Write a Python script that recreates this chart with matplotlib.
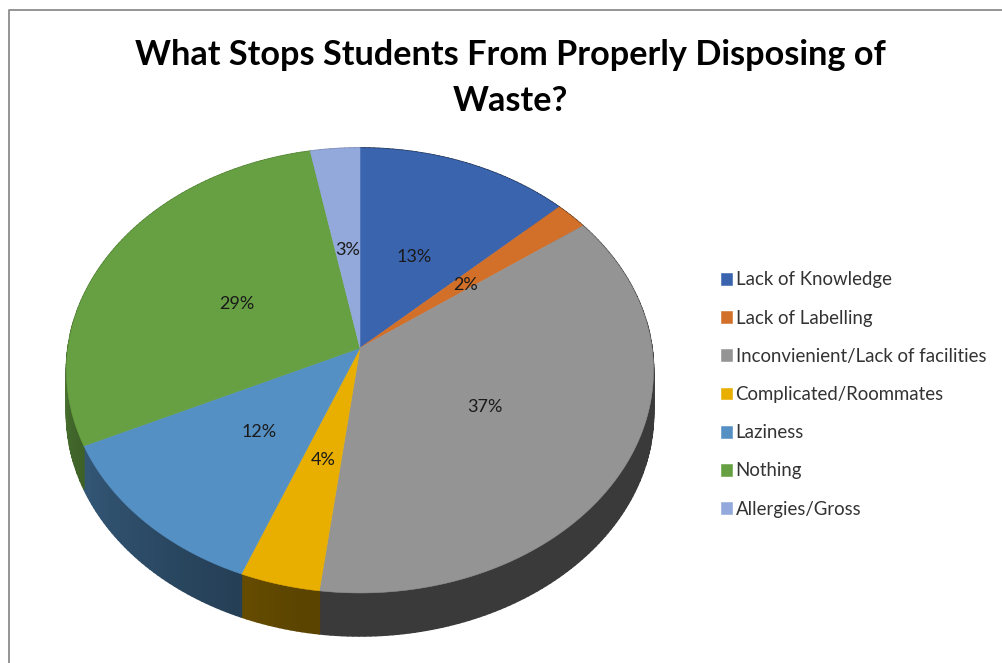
#!/usr/bin/env python
import numpy as np
import matplotlib
matplotlib.use('Agg')
import matplotlib.pyplot as plt
from matplotlib.collections import PolyCollection

plt.rcParams['font.family'] = ['Lato', 'DejaVu Sans']

title = 'What Stops Students From Properly Disposing of\nWaste?'
categories = ['Lack of Knowledge', 'Lack of Labelling',
              'Inconvienient/Lack of facilities', 'Complicated/Roommates',
              'Laziness', 'Nothing', 'Allergies/Gross']
percents = [13, 2, 37, 4, 12, 29, 3]
colors = ['#3a64ae', '#d2702a', '#949494', '#e8ae00',
          '#5590c4', '#66a042', '#93a8db']

# pie geometry in pixels, the disc is tilted so the apex sits above the middle
APEX_X, APEX_Y = 360, 348
SCALE_X, SCALE_Y = 292, 220.2
TILT = 0.101
DEPTH = 43
LABEL_R = 0.485


def project(theta, r=1.0):
    """Map a clockwise angle from 12 o'clock (deg) on the disc to pixels."""
    t = np.radians(theta)
    x, y = r * np.sin(t), r * np.cos(t)
    w = 1 + TILT * y
    return APEX_X + SCALE_X * x / w, APEX_Y - SCALE_Y * y / w


def wall_shade(theta):
    """Side wall brightness, dark at the front, lighter towards the left."""
    return np.interp(theta, [0, 190, 290, 360], [0.39, 0.39, 0.78, 0.78])


def draw_wall(ax, start, stop, color):
    thetas = np.linspace(start, stop, max(int(stop - start), 2) + 1)
    xs, ys = project(thetas)
    polys = []
    faces = []
    rgb = np.array(matplotlib.colors.to_rgb(color))
    for i in range(len(thetas) - 1):
        polys.append([(xs[i], ys[i]), (xs[i + 1], ys[i + 1]),
                      (xs[i + 1], ys[i + 1] + DEPTH), (xs[i], ys[i] + DEPTH)])
        faces.append(rgb * wall_shade((thetas[i] + thetas[i + 1]) / 2))
    ax.add_collection(PolyCollection(polys, facecolors=faces, edgecolors=faces,
                                     linewidths=1.2))


def draw_top(ax, start, stop, color):
    thetas = np.linspace(start, stop, max(int(stop - start) * 2, 2) + 1)
    xs, ys = project(thetas)
    return ax.fill(np.r_[APEX_X, xs], np.r_[APEX_Y, ys], color=color, lw=0.4)[0]


fig = plt.figure(figsize=(10.03, 6.63), dpi=100)
ax = fig.add_axes([0, 0, 1, 1])
ax.set_xlim(0, 1003)
ax.set_ylim(663, 0)
ax.axis('off')

# chart frame
ax.plot([9.5, 9.5, 1003], [663, 9.5, 9.5], color='#8c8c8c', lw=1.3)

edges = np.r_[0, np.cumsum(percents)] * 360.0 / sum(percents)

for i, color in enumerate(colors):
    draw_wall(ax, edges[i], edges[i + 1], color)

handles = []
for i, color in enumerate(colors):
    handles.append(draw_top(ax, edges[i], edges[i + 1], color))

for i, p in enumerate(percents):
    lx, ly = project((edges[i] + edges[i + 1]) / 2, LABEL_R)
    ax.text(lx, ly + 3, f'{p}%', ha='center', va='center', fontsize=13,
            color='#1a1a1a')

ax.text(510, 78, title, ha='center', va='center', fontsize=24.7, fontweight='bold',
        color='black', linespacing=1.55)

leg = ax.legend(handles, categories, loc='center left',
                bbox_to_anchor=(0.7185, 0.405), frameon=False, fontsize=13.4,
                handlelength=0.6, handleheight=0.6, handletextpad=0.2,
                labelspacing=1.14, borderpad=0, borderaxespad=0,
                labelcolor='#333333')

fig.savefig('out.png', dpi=100)
